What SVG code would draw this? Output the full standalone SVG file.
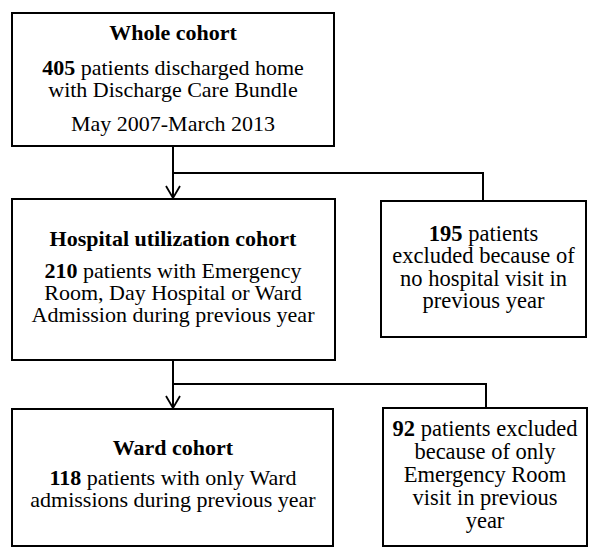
<svg xmlns="http://www.w3.org/2000/svg" width="600" height="552" viewBox="0 0 600 552">
<style>
.box{fill:#fff;stroke:#000;stroke-width:2}
.ln{fill:none;stroke:#000;stroke-width:2}
text{font-family:"Liberation Serif","Times New Roman",serif;font-size:22px;fill:#000;text-anchor:middle}
.r text{font-size:22.5px}
.b{font-weight:bold}
</style>
<defs>
<marker id="arr" viewBox="0 0 16 16" refX="14" refY="8" markerWidth="16" markerHeight="16" markerUnits="userSpaceOnUse" orient="auto">
<polyline points="2,1 14,8 2,15" fill="none" stroke="#000" stroke-width="1.8"/>
</marker>
</defs>
<rect width="600" height="552" fill="#fff"/>
<g id="connectors">
<line class="ln" x1="173" y1="146" x2="173" y2="198" marker-end="url(#arr)"/>
<polyline class="ln" points="173,173 483,173 483,201"/>
<line class="ln" x1="173" y1="360" x2="173" y2="408" marker-end="url(#arr)"/>
<polyline class="ln" points="173,384 486,384 486,408"/>
</g>
<g id="whole-cohort">
<rect class="box" x="12" y="13" width="322" height="133"/>
<text x="173" y="40" class="b">Whole cohort</text>
<text x="173" y="75"><tspan class="b">405</tspan> patients discharged home</text>
<text x="173" y="97">with Discharge Care Bundle</text>
<text x="173" y="131">May 2007-March 2013</text>
</g>
<g id="hospital-cohort">
<rect class="box" x="12" y="199" width="323" height="161"/>
<text x="173" y="246" class="b">Hospital utilization cohort</text>
<text x="173" y="278"><tspan class="b">210</tspan> patients with Emergency</text>
<text x="173" y="300">Room, Day Hospital or Ward</text>
<text x="173" y="322">Admission during previous year</text>
</g>
<g id="excluded-195" class="r">
<rect class="box" x="381" y="201" width="205" height="136"/>
<text x="483.5" y="241"><tspan class="b">195</tspan> patients</text>
<text x="483.5" y="263">excluded because of</text>
<text x="483.5" y="286">no hospital visit in</text>
<text x="483.5" y="308">previous year</text>
</g>
<g id="ward-cohort">
<rect class="box" x="12" y="409" width="321" height="137"/>
<text x="173" y="455" class="b">Ward cohort</text>
<text x="173" y="485"><tspan class="b">118</tspan> patients with only Ward</text>
<text x="173" y="507">admissions during previous year</text>
</g>
<g id="excluded-92" class="r">
<rect class="box" x="383" y="408" width="204" height="138"/>
<text x="485" y="436"><tspan class="b">92</tspan> patients excluded</text>
<text x="485" y="459">because of only</text>
<text x="485" y="482">Emergency Room</text>
<text x="485" y="505">visit in previous</text>
<text x="485" y="528">year</text>
</g>
</svg>
